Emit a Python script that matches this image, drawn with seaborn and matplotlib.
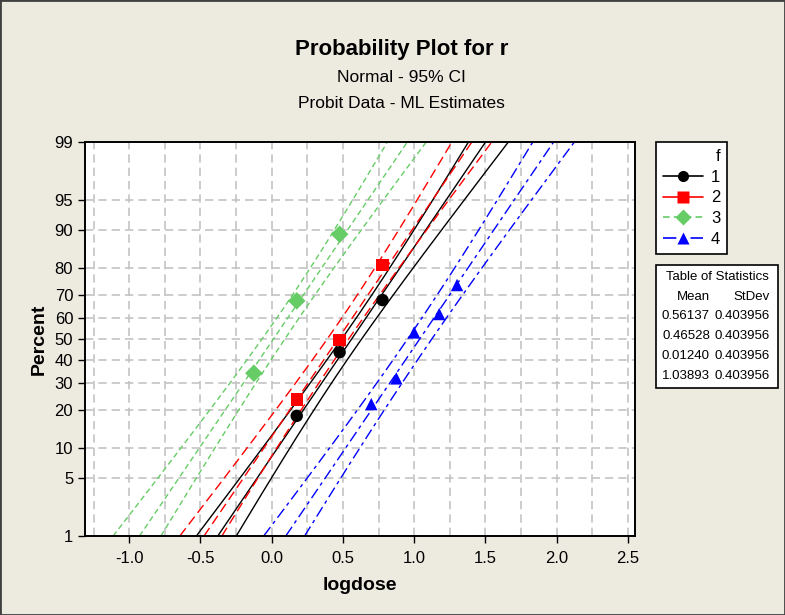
from statistics import NormalDist

import matplotlib.pyplot as plt
import numpy as np
import pandas as pd
import seaborn as sns
from matplotlib.lines import Line2D
from matplotlib.patches import Rectangle

# ---- data ----
groups = ["1", "2", "3", "4"]

logdose_1 = [0.176, 0.477, 0.778]
pct_1 = [18.2, 43.8, 67.7]
logdose_2 = [0.176, 0.477, 0.778]
pct_2 = [23.8, 49.5, 80.9]
logdose_3 = [-0.125, 0.176, 0.477]
pct_3 = [34.3, 67.4, 89.2]
logdose_4 = [0.699, 0.875, 1.000, 1.176, 1.301]
pct_4 = [22.1, 32.1, 53.1, 61.6, 73.8]

means = [0.56137, 0.46528, 0.01240, 1.03893]
stdevs = [0.403956, 0.403956, 0.403956, 0.403956]

# 95% CI offsets (logdose units) from the fitted line at 1%, 50%, 99%
ci_pct = [1, 50, 99]
ci_lo_1 = [-0.150, -0.070, -0.120]
ci_hi_1 = [0.130, 0.070, 0.160]
ci_lo_2 = [-0.170, -0.075, -0.140]
ci_hi_2 = [0.125, 0.075, 0.140]
ci_lo_3 = [-0.185, -0.080, -0.140]
ci_hi_3 = [0.150, 0.080, 0.133]
ci_lo_4 = [-0.155, -0.085, -0.146]
ci_hi_4 = [0.132, 0.085, 0.146]

pct_ticks = [1, 5, 10, 20, 30, 40, 50, 60, 70, 80, 90, 95, 99]
x_ticks = [-1.0, -0.5, 0.0, 0.5, 1.0, 1.5, 2.0, 2.5]

colors = {"1": "#000000", "2": "#FF0000", "3": "#66CC66", "4": "#0000FF"}
markers = {"1": "o", "2": "s", "3": "D", "4": "^"}
dashes = {"1": "-", "2": (0, (7, 3.5)), "3": (0, (4, 2.5)), "4": (0, (8, 3, 2.5, 3))}

nd = NormalDist()
probit = lambda p: nd.inv_cdf(p / 100.0)

doses = [logdose_1, logdose_2, logdose_3, logdose_4]
pcts = [pct_1, pct_2, pct_3, pct_4]
rows = []
for g, xs, ps in zip(groups, doses, pcts):
    for x, p in zip(xs, ps):
        rows.append({"f": g, "logdose": x, "z": probit(p)})
df = pd.DataFrame(rows)

sns.set_style("white")
plt.rcParams["font.family"] = ["Liberation Sans", "DejaVu Sans"]
plt.rcParams.update({"text.color": "black", "axes.labelcolor": "black",
                     "xtick.color": "black", "ytick.color": "black"})

bg = "#EDEAE0"
fig = plt.figure(figsize=(7.85, 6.15), dpi=100, facecolor=bg)
ax = fig.add_axes([85 / 785, 1 - 536 / 615, 550 / 785, 394 / 615])
ax.set_facecolor("white")

zmin, zmax = probit(1), probit(99)
zz = np.linspace(zmin, zmax, 200)
zci = [probit(p) for p in ci_pct]
ci_lo = [ci_lo_1, ci_lo_2, ci_lo_3, ci_lo_4]
ci_hi = [ci_hi_1, ci_hi_2, ci_hi_3, ci_hi_4]

for i, g in enumerate(groups):
    center = means[i] + stdevs[i] * zz
    kw = dict(color=colors[g], linestyle=dashes[g], linewidth=1.0)
    ax.plot(center, zz, **kw)
    for offs, sign in ((ci_lo[i], -1), (ci_hi[i], 1)):
        coef = np.polyfit(zci, np.square(offs), 2)
        off = sign * np.sqrt(np.polyval(coef, zz))
        ax.plot(center + off, zz, **kw)

sns.scatterplot(data=df, x="logdose", y="z", hue="f", style="f",
                palette=colors, markers=markers, s=80, edgecolor="none",
                legend=False, ax=ax, zorder=5)

# grid
for gx in np.arange(-1.25, 2.51, 0.25):
    ax.axvline(gx, color="#C4C4C4", linestyle=(0, (5, 3)), linewidth=1.2, zorder=0)
for p in pct_ticks:
    ax.axhline(probit(p), color="#C4C4C4", linestyle=(0, (5, 3)), linewidth=1.2, zorder=0)

ax.set_xlim(-1.31, 2.55)
ax.set_ylim(zmin, zmax)
ax.set_xticks(x_ticks)
ax.set_xticklabels([f"{v:.1f}" for v in x_ticks])
ax.set_yticks([probit(p) for p in pct_ticks])
ax.set_yticklabels([str(p) for p in pct_ticks])
ax.tick_params(axis="both", direction="out", length=5, width=1, labelsize=12,
               left=True, bottom=True)
ax.tick_params(axis="x", pad=6)
for s in ax.spines.values():
    s.set_color("black")
    s.set_linewidth(1.4)

ax.set_xlabel("logdose", fontsize=14, fontweight="bold", labelpad=8)
ax.set_ylabel("Percent", fontsize=14, fontweight="bold", labelpad=5)

fig.text(0.512, 1 - 50 / 615, "Probability Plot for r", ha="center", va="center",
         fontsize=16, fontweight="bold")
fig.text(0.512, 1 - 77 / 615, "Normal - 95% CI", ha="center", va="center", fontsize=12.5)
fig.text(0.512, 1 - 104 / 615, "Probit Data - ML Estimates", ha="center", va="center",
         fontsize=12.5)

# legend
handles = []
for g in groups:
    ls = "-" if g in ("1", "2") else dashes[g]
    handles.append(Line2D([], [], color=colors[g], linestyle=ls, linewidth=1.2,
                          marker=markers[g], markersize=8, markeredgecolor="none"))
leg = fig.legend(handles, groups, title="f", loc="upper left",
                 bbox_to_anchor=(656 / 785, 1 - 142 / 615), borderaxespad=0,
                 frameon=True, fancybox=False, edgecolor="black", framealpha=1,
                 fontsize=12, title_fontsize=12, handlelength=2.4, handletextpad=0.5,
                 labelspacing=0.35, borderpad=0.4, alignment="right")
leg.get_frame().set_linewidth(1.2)

# table of statistics
fig.patches.append(Rectangle((656 / 785, 1 - 388 / 615), 122 / 785, 123 / 615,
                             transform=fig.transFigure, facecolor="white",
                             edgecolor="black", linewidth=1.2))
fs = 9.5
fig.text(717 / 785, 1 - 277 / 615, "Table of Statistics", ha="center", va="center", fontsize=fs)
fig.text(710 / 785, 1 - 297 / 615, "Mean", ha="right", va="center", fontsize=fs)
fig.text(770 / 785, 1 - 297 / 615, "StDev", ha="right", va="center", fontsize=fs)
for k, (m, sd) in enumerate(zip(means, stdevs)):
    y = 1 - (316 + 20 * k) / 615
    fig.text(710 / 785, y, f"{m:.5f}", ha="right", va="center", fontsize=fs)
    fig.text(770 / 785, y, f"{sd:.6f}", ha="right", va="center", fontsize=fs)

# outer frame
fig.patches.append(Rectangle((0, 0), 1, 1, transform=fig.transFigure, fill=False,
                             edgecolor="#404040", linewidth=2.0))

fig.savefig("out.png", dpi=100, facecolor=bg)
